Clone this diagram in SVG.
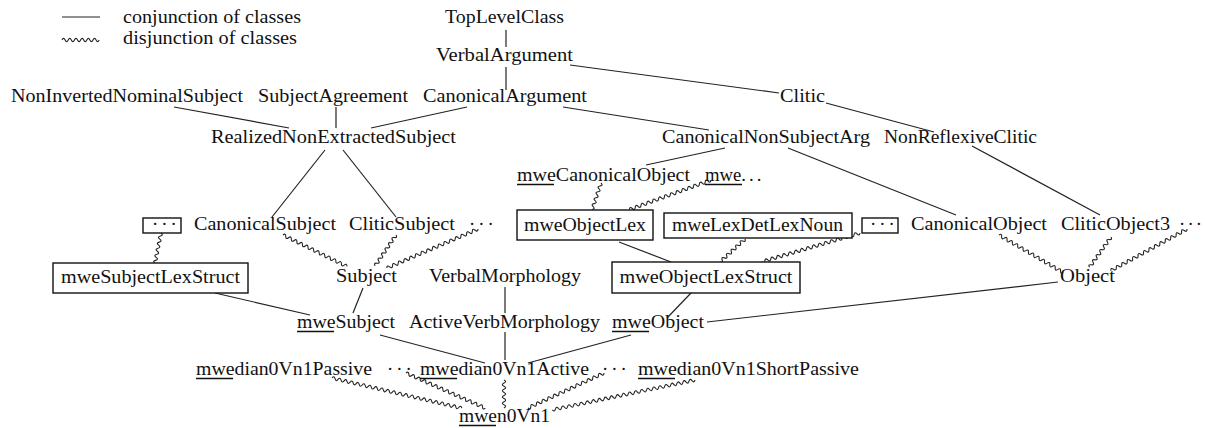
<svg xmlns="http://www.w3.org/2000/svg" width="1205" height="428" viewBox="0 0 1205 428">
<style>
text{font-family:"Liberation Serif","Times New Roman",serif;font-size:18.7px;fill:#111}
.s{stroke:#222;stroke-width:1.2;fill:none}
.w{stroke:#222;stroke-width:1.1;fill:none}
.ul{stroke:#111;stroke-width:1.5}
.box{fill:#fff;stroke:#111;stroke-width:1.4}
.d{letter-spacing:3px}
.d2{letter-spacing:2.2px}
</style>
<rect width="1205" height="428" fill="#fff"/>
<g id="legend">
<line class="s" x1="62" y1="17" x2="100" y2="17"/>
<path class="w" transform="translate(62,40)" d="M0,0q1.55,-3.2 3.1,0t3.1,0t3.1,0t3.1,0t3.1,0t3.1,0t3.1,0t3.1,0t3.1,0t3.1,0t3.1,0t3.1,0"/>
<text x="123" y="23" textLength="178" lengthAdjust="spacingAndGlyphs">conjunction of classes</text>
<text x="123" y="44" textLength="174" lengthAdjust="spacingAndGlyphs">disjunction of classes</text>
</g>
<g id="connectors">
<line class="s" x1="506" y1="30" x2="506" y2="47"/>
<line class="s" x1="506" y1="67" x2="506" y2="90"/>
<line class="s" x1="570" y1="65" x2="779" y2="93"/>
<line class="s" x1="174" y1="107" x2="289" y2="128"/>
<line class="s" x1="336" y1="107" x2="336" y2="128"/>
<line class="s" x1="467" y1="107" x2="371" y2="128"/>
<line class="s" x1="563" y1="107" x2="709" y2="130"/>
<line class="s" x1="826" y1="103" x2="934" y2="132"/>
<line class="s" x1="325" y1="150" x2="272" y2="217"/>
<line class="s" x1="343" y1="150" x2="396" y2="217"/>
<line class="s" x1="725" y1="148" x2="646" y2="165"/>
<line class="s" x1="788" y1="148" x2="956" y2="215"/>
<line class="s" x1="972" y1="146" x2="1100" y2="215"/>
<line class="s" x1="619" y1="242" x2="671" y2="262"/>
<line class="s" x1="215" y1="293" x2="310" y2="315"/>
<line class="s" x1="363" y1="288" x2="353" y2="313"/>
<line class="s" x1="505" y1="287" x2="505" y2="313"/>
<line class="s" x1="505" y1="332" x2="505" y2="360"/>
<line class="s" x1="691" y1="293" x2="667" y2="318"/>
<line class="s" x1="1058" y1="282" x2="707" y2="322"/>
<line class="s" x1="380" y1="335" x2="485" y2="363"/>
<line class="s" x1="631" y1="335" x2="528" y2="363"/>
<path class="w" transform="translate(161,233) rotate(101.3)" d="M0,0q1.55,-3.2 3.1,0t3.1,0t3.1,0t3.1,0t3.1,0t3.1,0t3.1,0t3.1,0t3.1,0t3.1,0"/>
<path class="w" transform="translate(283,235) rotate(26.2)" d="M0,0q1.55,-3.2 3.1,0t3.1,0t3.1,0t3.1,0t3.1,0t3.1,0t3.1,0t3.1,0t3.1,0t3.1,0t3.1,0t3.1,0t3.1,0t3.1,0t3.1,0t3.1,0t3.1,0t3.1,0t3.1,0t3.1,0t3.1,0t3.1,0t3.1,0"/>
<path class="w" transform="translate(396,235) rotate(124.1)" d="M0,0q1.55,-3.2 3.1,0t3.1,0t3.1,0t3.1,0t3.1,0t3.1,0t3.1,0t3.1,0t3.1,0t3.1,0t3.1,0t3.1,0"/>
<path class="w" transform="translate(478,229) rotate(156.8)" d="M0,0q1.55,-3.2 3.1,0t3.1,0t3.1,0t3.1,0t3.1,0t3.1,0t3.1,0t3.1,0t3.1,0t3.1,0t3.1,0t3.1,0t3.1,0t3.1,0t3.1,0t3.1,0t3.1,0t3.1,0t3.1,0t3.1,0t3.1,0t3.1,0t3.1,0t3.1,0t3.1,0t3.1,0t3.1,0t3.1,0t3.1,0t3.1,0t3.1,0t3.1,0"/>
<path class="w" transform="translate(601,183) rotate(108.4)" d="M0,0q1.55,-3.2 3.1,0t3.1,0t3.1,0t3.1,0t3.1,0t3.1,0t3.1,0t3.1,0t3.1,0"/>
<path class="w" transform="translate(711,180) rotate(160.1)" d="M0,0q1.55,-3.2 3.1,0t3.1,0t3.1,0t3.1,0t3.1,0t3.1,0t3.1,0t3.1,0t3.1,0t3.1,0t3.1,0t3.1,0t3.1,0t3.1,0t3.1,0t3.1,0t3.1,0t3.1,0t3.1,0t3.1,0t3.1,0t3.1,0t3.1,0t3.1,0t3.1,0t3.1,0t3.1,0t3.1,0"/>
<path class="w" transform="translate(745,239) rotate(137.4)" d="M0,0q1.55,-3.2 3.1,0t3.1,0t3.1,0t3.1,0t3.1,0t3.1,0t3.1,0t3.1,0t3.1,0t3.1,0t3.1,0"/>
<path class="w" transform="translate(860,233) rotate(163.7)" d="M0,0q1.55,-3.2 3.1,0t3.1,0t3.1,0t3.1,0t3.1,0t3.1,0t3.1,0t3.1,0t3.1,0t3.1,0t3.1,0t3.1,0t3.1,0t3.1,0t3.1,0t3.1,0t3.1,0t3.1,0t3.1,0t3.1,0t3.1,0t3.1,0t3.1,0t3.1,0t3.1,0t3.1,0t3.1,0t3.1,0t3.1,0t3.1,0t3.1,0t3.1,0t3.1,0"/>
<path class="w" transform="translate(999,235) rotate(30.3)" d="M0,0q1.55,-3.2 3.1,0t3.1,0t3.1,0t3.1,0t3.1,0t3.1,0t3.1,0t3.1,0t3.1,0t3.1,0t3.1,0t3.1,0t3.1,0t3.1,0t3.1,0t3.1,0t3.1,0t3.1,0t3.1,0t3.1,0t3.1,0t3.1,0t3.1,0t3.1,0"/>
<path class="w" transform="translate(1111,237) rotate(125.4)" d="M0,0q1.55,-3.2 3.1,0t3.1,0t3.1,0t3.1,0t3.1,0t3.1,0t3.1,0t3.1,0t3.1,0t3.1,0t3.1,0t3.1,0"/>
<path class="w" transform="translate(1187,229) rotate(151.3)" d="M0,0q1.55,-3.2 3.1,0t3.1,0t3.1,0t3.1,0t3.1,0t3.1,0t3.1,0t3.1,0t3.1,0t3.1,0t3.1,0t3.1,0t3.1,0t3.1,0t3.1,0t3.1,0t3.1,0t3.1,0t3.1,0t3.1,0t3.1,0t3.1,0t3.1,0t3.1,0t3.1,0t3.1,0t3.1,0t3.1,0"/>
<path class="w" transform="translate(332,378) rotate(13.1)" d="M0,0q1.55,-3.2 3.1,0t3.1,0t3.1,0t3.1,0t3.1,0t3.1,0t3.1,0t3.1,0t3.1,0t3.1,0t3.1,0t3.1,0t3.1,0t3.1,0t3.1,0t3.1,0t3.1,0t3.1,0t3.1,0t3.1,0t3.1,0t3.1,0t3.1,0t3.1,0t3.1,0t3.1,0t3.1,0t3.1,0t3.1,0t3.1,0t3.1,0t3.1,0t3.1,0t3.1,0t3.1,0t3.1,0t3.1,0t3.1,0t3.1,0t3.1,0t3.1,0t3.1,0t3.1,0"/>
<path class="w" transform="translate(406,373) rotate(23.9)" d="M0,0q1.55,-3.2 3.1,0t3.1,0t3.1,0t3.1,0t3.1,0t3.1,0t3.1,0t3.1,0t3.1,0t3.1,0t3.1,0t3.1,0t3.1,0t3.1,0t3.1,0t3.1,0t3.1,0t3.1,0t3.1,0t3.1,0t3.1,0t3.1,0t3.1,0t3.1,0t3.1,0t3.1,0t3.1,0t3.1,0"/>
<path class="w" transform="translate(504,380) rotate(90)" d="M0,0q1.55,-3.2 3.1,0t3.1,0t3.1,0t3.1,0t3.1,0t3.1,0t3.1,0t3.1,0t3.1,0"/>
<path class="w" transform="translate(604,373) rotate(155.3)" d="M0,0q1.55,-3.2 3.1,0t3.1,0t3.1,0t3.1,0t3.1,0t3.1,0t3.1,0t3.1,0t3.1,0t3.1,0t3.1,0t3.1,0t3.1,0t3.1,0t3.1,0t3.1,0t3.1,0t3.1,0t3.1,0t3.1,0t3.1,0t3.1,0t3.1,0t3.1,0t3.1,0t3.1,0t3.1,0"/>
<path class="w" transform="translate(695,380) rotate(168.2)" d="M0,0q1.55,-3.2 3.1,0t3.1,0t3.1,0t3.1,0t3.1,0t3.1,0t3.1,0t3.1,0t3.1,0t3.1,0t3.1,0t3.1,0t3.1,0t3.1,0t3.1,0t3.1,0t3.1,0t3.1,0t3.1,0t3.1,0t3.1,0t3.1,0t3.1,0t3.1,0t3.1,0t3.1,0t3.1,0t3.1,0t3.1,0t3.1,0t3.1,0t3.1,0t3.1,0t3.1,0t3.1,0t3.1,0t3.1,0t3.1,0t3.1,0t3.1,0t3.1,0t3.1,0t3.1,0t3.1,0t3.1,0t3.1,0t3.1,0"/>
</g>
<g id="TopLevelClass"><text x="445" y="23" textLength="119" lengthAdjust="spacingAndGlyphs">TopLevelClass</text></g>
<g id="VerbalArgument"><text x="436" y="61" textLength="137" lengthAdjust="spacingAndGlyphs">VerbalArgument</text></g>
<g id="NonInvertedNominalSubject"><text x="11" y="102" textLength="232" lengthAdjust="spacingAndGlyphs">NonInvertedNominalSubject</text></g>
<g id="SubjectAgreement"><text x="258" y="102" textLength="150" lengthAdjust="spacingAndGlyphs">SubjectAgreement</text></g>
<g id="CanonicalArgument"><text x="423" y="102" textLength="164" lengthAdjust="spacingAndGlyphs">CanonicalArgument</text></g>
<g id="Clitic"><text x="780" y="102" textLength="45" lengthAdjust="spacingAndGlyphs">Clitic</text></g>
<g id="RealizedNonExtractedSubject"><text x="211" y="143" textLength="245" lengthAdjust="spacingAndGlyphs">RealizedNonExtractedSubject</text></g>
<g id="CanonicalNonSubjectArg"><text x="662" y="143" textLength="208" lengthAdjust="spacingAndGlyphs">CanonicalNonSubjectArg</text></g>
<g id="NonReflexiveClitic"><text x="884" y="143" textLength="153" lengthAdjust="spacingAndGlyphs">NonReflexiveClitic</text></g>
<g id="mweCanonicalObject"><text x="517" y="181" textLength="173" lengthAdjust="spacingAndGlyphs">mweCanonicalObject</text><line class="ul" x1="517" y1="184.5" x2="554" y2="184.5"/></g>
<g id="mweMore"><text x="705" y="181">mwe<tspan class="d">...</tspan></text><line class="ul" x1="705" y1="184.5" x2="742" y2="184.5"/></g>
<g id="dotsBoxSubj"><rect class="box" x="143" y="218" width="38" height="15"/><text x="152" y="230" class="d">···</text></g>
<g id="CanonicalSubject"><text x="194" y="230" textLength="142" lengthAdjust="spacingAndGlyphs">CanonicalSubject</text></g>
<g id="CliticSubject"><text x="349" y="230" textLength="106" lengthAdjust="spacingAndGlyphs">CliticSubject</text></g>
<g id="dotsSubj"><text x="469" y="230" class="d">···</text></g>
<g id="mweObjectLex"><rect class="box" x="517" y="210" width="136" height="30"/><text x="524" y="231" textLength="122" lengthAdjust="spacingAndGlyphs">mweObjectLex</text></g>
<g id="mweLexDetLexNoun"><rect class="box" x="664" y="213" width="188" height="25"/><text x="672" y="231" textLength="171" lengthAdjust="spacingAndGlyphs">mweLexDetLexNoun</text></g>
<g id="dotsBoxObj"><rect class="box" x="862" y="218" width="36" height="15"/><text x="870" y="230" class="d">···</text></g>
<g id="CanonicalObject"><text x="911" y="230" textLength="136" lengthAdjust="spacingAndGlyphs">CanonicalObject</text></g>
<g id="CliticObject3"><text x="1061" y="230" textLength="109" lengthAdjust="spacingAndGlyphs">CliticObject3</text></g>
<g id="dotsObj"><text x="1179" y="230" class="d2">···</text></g>
<g id="mweSubjectLexStruct"><rect class="box" x="53" y="263" width="195" height="30"/><text x="61" y="283" textLength="179" lengthAdjust="spacingAndGlyphs">mweSubjectLexStruct</text></g>
<g id="Subject"><text x="336" y="282" textLength="61" lengthAdjust="spacingAndGlyphs">Subject</text></g>
<g id="VerbalMorphology"><text x="429" y="282" textLength="152" lengthAdjust="spacingAndGlyphs">VerbalMorphology</text></g>
<g id="mweObjectLexStruct"><rect class="box" x="612" y="262" width="188" height="31"/><text x="619.5" y="283" textLength="173" lengthAdjust="spacingAndGlyphs">mweObjectLexStruct</text></g>
<g id="Object"><text x="1060" y="282" textLength="55" lengthAdjust="spacingAndGlyphs">Object</text></g>
<g id="mweSubject"><text x="297" y="328" textLength="98" lengthAdjust="spacingAndGlyphs">mweSubject</text><line class="ul" x1="297" y1="331.5" x2="334" y2="331.5"/></g>
<g id="ActiveVerbMorphology"><text x="409" y="328" textLength="191" lengthAdjust="spacingAndGlyphs">ActiveVerbMorphology</text></g>
<g id="mweObject"><text x="612" y="328" textLength="92" lengthAdjust="spacingAndGlyphs">mweObject</text><line class="ul" x1="612" y1="331.5" x2="649" y2="331.5"/></g>
<g id="mwedian0Vn1Passive"><text x="196" y="375" textLength="176" lengthAdjust="spacingAndGlyphs">mwedian0Vn1Passive</text><line class="ul" x1="196" y1="378.5" x2="233" y2="378.5"/></g>
<g id="dotsDian1"><text x="387" y="375" class="d">···</text></g>
<g id="mwedian0Vn1Active"><text x="420" y="375" textLength="169" lengthAdjust="spacingAndGlyphs">mwedian0Vn1Active</text><line class="ul" x1="420" y1="378.5" x2="457" y2="378.5"/></g>
<g id="dotsDian2"><text x="602" y="375" class="d">···</text></g>
<g id="mwedian0Vn1ShortPassive"><text x="638" y="375" textLength="221" lengthAdjust="spacingAndGlyphs">mwedian0Vn1ShortPassive</text><line class="ul" x1="638" y1="378.5" x2="675" y2="378.5"/></g>
<g id="mwen0Vn1"><text x="459" y="422" textLength="91" lengthAdjust="spacingAndGlyphs">mwen0Vn1</text><line class="ul" x1="459" y1="425.5" x2="496" y2="425.5"/></g>
</svg>
